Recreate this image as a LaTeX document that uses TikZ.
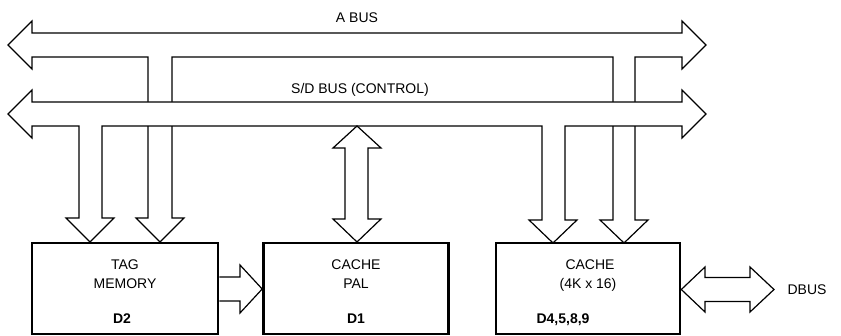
\documentclass[tikz,border=0pt]{standalone}
\usepackage{fontspec}
\setmainfont{Liberation Sans}
\usetikzlibrary{positioning}

\tikzset{
  bus/.style={draw, fill=white, line width=1.2pt, line join=miter},
  unit/.style={draw, line width=2.6pt, inner sep=0pt},
  lbl/.style={font=\fontsize{14}{16}\selectfont, inner sep=0pt, anchor=base},
  dlbl/.style={lbl, font=\fontsize{14}{16}\selectfont\bfseries}
}

\begin{document}
\begin{tikzpicture}[x=1pt, y=-1pt]
    \useasboundingbox (0,0) rectangle (841,336);

    % A bus with its two taps (drawn first, S/D bus covers the crossings)
    \draw[bus] (32,33) -- (682,33) -- (682,21) -- (706,45) -- (682,69) -- (682,57)
        -- (635,57) -- (635,220) -- (648,220) -- (624,243) -- (600,220) -- (613,220) -- (613,57)
        -- (172,57) -- (172,218) -- (184,218) -- (160,242) -- (136,218) -- (148,218) -- (148,57)
        -- (32,57) -- (32,69) -- (8,45) -- (32,21) -- cycle;

    % S/D bus with its two taps
    \draw[bus] (32,102) -- (682,102) -- (682,90) -- (706,114) -- (682,138) -- (682,126)
        -- (565,126) -- (565,220) -- (577,220) -- (553,243) -- (529,220) -- (542,220) -- (542,126)
        -- (102,126) -- (102,218) -- (114,218) -- (90,242) -- (66,218) -- (79,218) -- (79,126)
        -- (32,126) -- (32,138) -- (8,114) -- (32,90) -- cycle;

    % functional blocks
    \node[unit, minimum width=186pt, minimum height=91pt] (tag) at (125,288.5) {};
    \node[unit, minimum width=185pt, minimum height=91pt] (pal) at (356,288.5) {};
    \node[unit, minimum width=184pt, minimum height=91pt] (cache) at (588,288.5) {};

    % S/D bus <-> cache PAL
    \draw[bus] (357,126) -- (381,148) -- (368,148) -- (368,219) -- (381,219) -- (357,242)
        -- (333,219) -- (345,219) -- (345,148) -- (333,148) -- cycle;

    % tag memory -> cache PAL
    \draw[bus] (tag.east |- 0,277) -- (240,277) -- (240,265) -- (pal.west |- 0,289)
        -- (240,313) -- (240,301) -- (tag.east |- 0,301);

    % cache <-> DBUS
    \draw[bus] (cache.east |- 0,289.5) -- (705,267) -- (705,277.5) -- (750,277.5) -- (750,267)
        -- (774,289.5) -- (750,312) -- (750,301.5) -- (705,301.5) -- (705,312) -- cycle;

    % labels
    \node[lbl] (abus) at (357,22.5) {A BUS};
    \node[lbl] (sdbus) at (360,93.5) {S/D BUS (CONTROL)};
    \node[lbl] (dbus) at (807,294.5) {DBUS};

    \node[lbl] (tag1) at (125,270) {TAG};
    \node[lbl] (tag2) at (125,288.3) {MEMORY};
    \node[dlbl] (tag3) at (122,323.5) {D2};

    \node[lbl] (pal1) at (356,270) {CACHE};
    \node[lbl] (pal2) at (356,288.3) {PAL};
    \node[dlbl] (pal3) at (356,323.5) {D1};

    \node[lbl] (cache1) at (590,270) {CACHE};
    \node[lbl] (cache2) at (588,288.3) {(4K x 16)};
    \node[dlbl] (cache3) at (563,323.5) {D4,5,8,9};
\end{tikzpicture}
\end{document}
